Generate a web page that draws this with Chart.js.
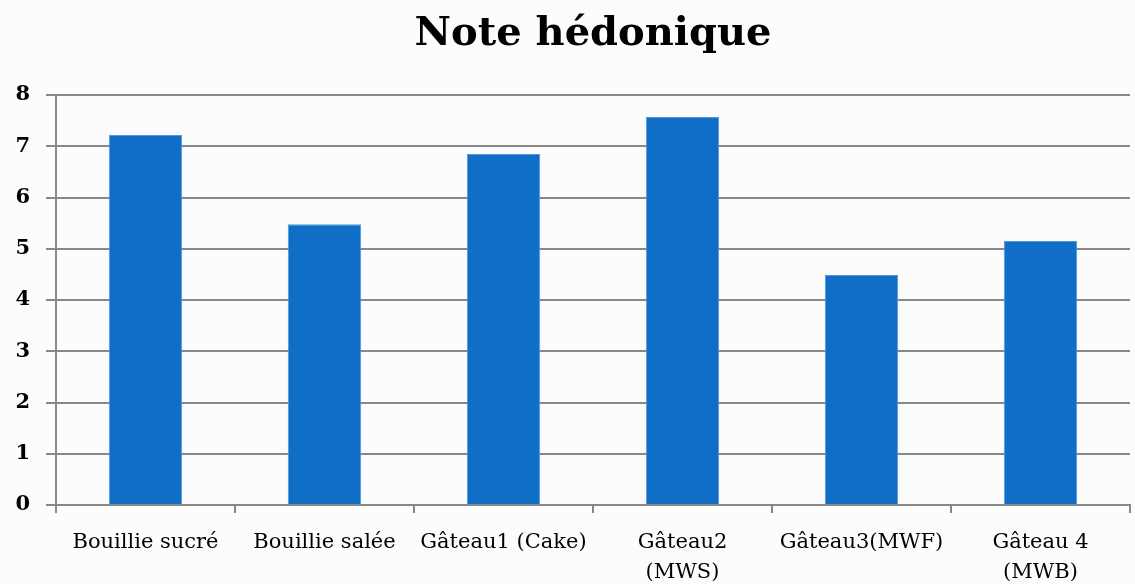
<!DOCTYPE html>
<html lang="fr">
<head>
    <meta charset="UTF-8">
    <title>Note hédonique</title>
    <script src="https://cdn.jsdelivr.net/npm/chart.js@4/dist/chart.umd.min.js"></script>
    <style>
        html, body {
            margin: 0;
            padding: 0;
            background: #fcfcfc;
        }

        .chart-container {
            width: 1135px;
            height: 584px;
        }
    </style>
</head>
<body>
<div class="chart-container">
    <canvas id="canvas"></canvas>
</div>

<script>
    var categories = [
        "Bouillie sucré",
        "Bouillie salée",
        "Gâteau1 (Cake)",
        ["Gâteau2", "(MWS)"],
        "Gâteau3(MWF)",
        ["Gâteau 4", "(MWB)"]
    ];
    var notes = [7.22, 5.48, 6.85, 7.57, 4.49, 5.15];
    var yTicks = [0, 1, 2, 3, 4, 5, 6, 7, 8];

    var serif = "'DejaVu Serif', 'Liberation Serif', serif";

    // center the title over the plot area, not the whole canvas
    var titleOverPlot = {
        id: 'titleOverPlot',
        afterLayout: function (chart) {
            if (chart.titleBlock) {
                chart.titleBlock.left = chart.chartArea.left;
                chart.titleBlock.right = chart.chartArea.right;
            }
        }
    };

    window.onload = function () {
        var ctx = document.getElementById("canvas").getContext("2d");
        window.myBar = new Chart(ctx, {
            type: 'bar',
            data: {
                labels: categories,
                datasets: [{
                    label: 'Note hédonique',
                    data: notes,
                    backgroundColor: '#106ec6',
                    borderColor: '#4d98de',
                    borderWidth: 1,
                    barPercentage: 0.41,
                    categoryPercentage: 1
                }]
            },
            plugins: [titleOverPlot],
            options: {
                responsive: true,
                maintainAspectRatio: false,
                animation: false,
                layout: {
                    padding: {left: 0, right: 5, top: 0, bottom: 0}
                },
                plugins: {
                    legend: {display: false},
                    tooltip: {enabled: false},
                    title: {
                        display: true,
                        text: 'Note hédonique',
                        color: '#000',
                        font: {family: serif, size: 40, weight: 'bold', lineHeight: 1.2},
                        padding: {top: 11, bottom: 36}
                    }
                },
                scales: {
                    x: {
                        grid: {
                            offset: true,
                            drawOnChartArea: false,
                            drawTicks: true,
                            tickLength: 8,
                            color: '#888',
                            lineWidth: 2
                        },
                        border: {color: '#888', width: 2},
                        ticks: {
                            color: '#000',
                            maxRotation: 0,
                            autoSkip: false,
                            padding: 14,
                            font: {family: serif, size: 21, lineHeight: 1.45}
                        },
                        afterFit: function (scale) {
                            scale.height = 79;
                        }
                    },
                    y: {
                        min: 0,
                        max: 8,
                        afterBuildTicks: function (scale) {
                            scale.ticks = yTicks.map(function (v) {
                                return {value: v};
                            });
                        },
                        grid: {
                            color: '#888',
                            lineWidth: 2,
                            tickLength: 10
                        },
                        border: {color: '#888', width: 2},
                        ticks: {
                            color: '#000',
                            padding: 16,
                            font: {family: serif, size: 21, weight: 'bold'}
                        },
                        afterFit: function (scale) {
                            scale.width = 56;
                        }
                    }
                }
            }
        });
    };
</script>
</body>
</html>
